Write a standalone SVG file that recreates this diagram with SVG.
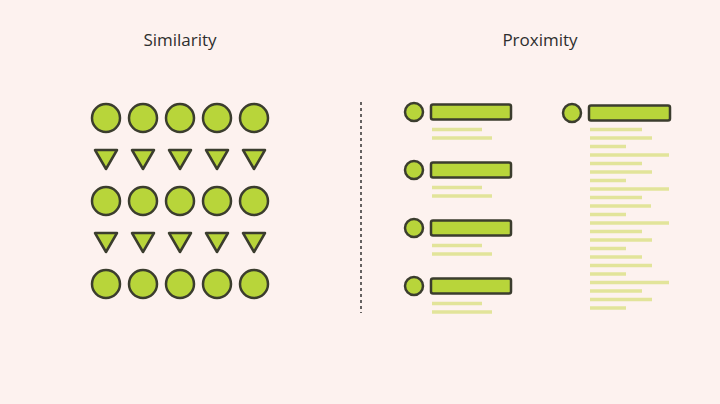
<svg xmlns="http://www.w3.org/2000/svg" width="720" height="404" viewBox="0 0 720 404">
<defs><style>
.s{fill:#b8d53a;stroke:#3b3d2e;stroke-width:2.5}
.l{stroke:#e2e49a;stroke-width:3.5}
.t{font-family:"Open Sans","Liberation Sans",sans-serif;font-size:17px;font-weight:500;fill:#2e2e2e;text-anchor:middle}
</style>
<g id="dot"><circle r="14" class="s"/></g>
<g id="tri"><polygon points="-11,-9 11,-9 0,10" class="s" stroke-linejoin="round"/></g>
</defs>
<rect width="720" height="404" fill="#fdf2ef"/>
<text class="t" x="180" y="46">Similarity</text>
<text class="t" x="540" y="46">Proximity</text>
<g id="similarity">
<use href="#dot" x="106" y="118"/><use href="#dot" x="143" y="118"/><use href="#dot" x="180" y="118"/><use href="#dot" x="217" y="118"/><use href="#dot" x="254" y="118"/>
<use href="#tri" x="106" y="159"/><use href="#tri" x="143" y="159"/><use href="#tri" x="180" y="159"/><use href="#tri" x="217" y="159"/><use href="#tri" x="254" y="159"/>
<use href="#dot" x="106" y="201"/><use href="#dot" x="143" y="201"/><use href="#dot" x="180" y="201"/><use href="#dot" x="217" y="201"/><use href="#dot" x="254" y="201"/>
<use href="#tri" x="106" y="242"/><use href="#tri" x="143" y="242"/><use href="#tri" x="180" y="242"/><use href="#tri" x="217" y="242"/><use href="#tri" x="254" y="242"/>
<use href="#dot" x="106" y="284"/><use href="#dot" x="143" y="284"/><use href="#dot" x="180" y="284"/><use href="#dot" x="217" y="284"/><use href="#dot" x="254" y="284"/>
</g>
<line x1="361" y1="102" x2="361" y2="313" stroke="#333" stroke-width="1.5" stroke-dasharray="3,3"/>
<defs>
<g id="item"><circle cx="414" cy="0" r="9" class="s"/><rect x="431" y="-7.5" width="80" height="15" rx="2" class="s"/><line class="l" x1="432" y1="17.5" x2="482" y2="17.5"/><line class="l" x1="432" y1="26" x2="492" y2="26"/></g>
</defs>
<g id="proximity-left">
<use href="#item" y="112"/><use href="#item" y="170"/><use href="#item" y="228"/><use href="#item" y="286"/>
</g>
<g id="proximity-right">
<circle cx="572" cy="113" r="9" class="s"/><rect x="589" y="105.5" width="81" height="15" rx="2" class="s"/>
<g class="l">
<line x1="590" y1="129.5" x2="642" y2="129.5"/>
<line x1="590" y1="138" x2="652" y2="138"/>
<line x1="590" y1="146.5" x2="626" y2="146.5"/>
<line x1="590" y1="155" x2="669" y2="155"/>
<line x1="590" y1="163.5" x2="642" y2="163.5"/>
<line x1="590" y1="172" x2="652" y2="172"/>
<line x1="590" y1="180.5" x2="626" y2="180.5"/>
<line x1="590" y1="189" x2="669" y2="189"/>
<line x1="590" y1="197.5" x2="642" y2="197.5"/>
<line x1="590" y1="206" x2="651" y2="206"/>
<line x1="590" y1="214.5" x2="626" y2="214.5"/>
<line x1="590" y1="223" x2="669" y2="223"/>
<line x1="590" y1="231.5" x2="642" y2="231.5"/>
<line x1="590" y1="240" x2="652" y2="240"/>
<line x1="590" y1="248.5" x2="626" y2="248.5"/>
<line x1="590" y1="257" x2="642" y2="257"/>
<line x1="590" y1="265.5" x2="652" y2="265.5"/>
<line x1="590" y1="274" x2="626" y2="274"/>
<line x1="590" y1="282.5" x2="669" y2="282.5"/>
<line x1="590" y1="291" x2="642" y2="291"/>
<line x1="590" y1="299.5" x2="652" y2="299.5"/>
<line x1="590" y1="308" x2="626" y2="308"/>
</g>
</g>
</svg>
